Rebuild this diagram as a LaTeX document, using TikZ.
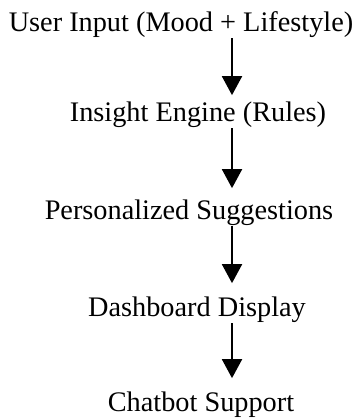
\documentclass[tikz,border=0pt]{standalone}
\usepackage{fontspec}
\setmainfont{Liberation Serif}
\usetikzlibrary{arrows.meta}
\tikzstyle{stage}=[anchor=base,inner sep=0pt,font=\fontsize{28.3}{32}\selectfont]
\tikzstyle{flow} = [draw,line width=1.9pt,-{Triangle[width=20pt,length=19pt]}]

\begin{document}
\begin{tikzpicture}[x=1pt,y=1pt]
    \useasboundingbox (0,0) rectangle (356,419);
    % The five stages, top to bottom
    \foreach \pos/\name/\txt in {{(181,387)/user/User Input (Mood + Lifestyle)},
        {(198,297)/insight/Insight Engine (Rules)},
        {(189,199)/suggest/Personalized Suggestions},
        {(197,102)/dash/Dashboard Display},
        {(201,7)/chat/Chatbot Support}}
        \node[stage] (\name) at \pos {\txt};
    % All arrows run down one line
    \coordinate (ax) at (232,0);
    \foreach \source/\dest/\gap in {user/insight/7pt, insight/suggest/12pt, suggest/dash/14pt, dash/chat/14pt}
        \path[flow,shorten >=\gap] (\source.south -| ax) -- (\dest.north -| ax);

\end{tikzpicture}
\end{document}
